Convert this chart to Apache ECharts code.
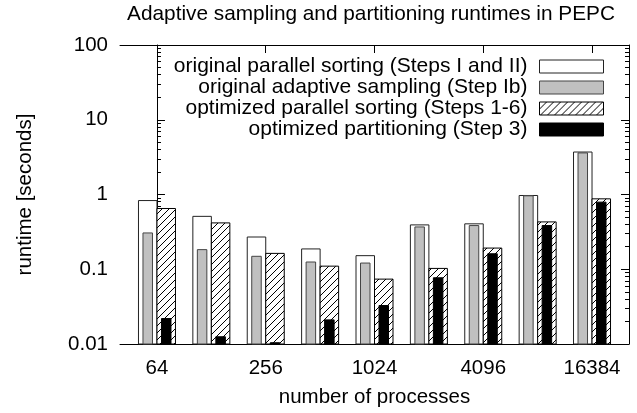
<!DOCTYPE html>
<html>
<head>
<meta charset="utf-8">
<script src="https://cdn.jsdelivr.net/npm/echarts@6/dist/echarts.min.js"></script>
<style>
  html, body { margin: 0; padding: 0; background: #fff; }
  #chart { width: 637px; height: 413px; }
</style>
</head>
<body>
<div id="chart"></div>
<script>
// number of processes, one cluster per entry
const processes = ['64', '128', '256', '512', '1024', '2048', '4096', '8192', '16384'];
// runtimes in seconds
const origSorting = [0.83, 0.51, 0.27, 0.187, 0.152, 0.392, 0.405, 0.97, 3.7];
const origSampling = [0.306, 0.183, 0.149, 0.125, 0.121, 0.368, 0.384, 0.96, 3.6];
const optSorting = [0.65, 0.417, 0.163, 0.110, 0.0738, 0.1026, 0.192, 0.43, 0.875];
const optPartitioning = [0.0219, 0.0125, 0.0104, 0.021, 0.0327, 0.0769, 0.161, 0.384, 0.79];
// which clusters get a tick label
const labeledGroups = [0, 2, 4, 6, 8];
const yTickLabels = ['0.01', '0.1', '1', '10', '100'];

const names = [
  'original parallel sorting (Steps I and II)',
  'original adaptive sampling (Step Ib)',
  'optimized parallel sorting (Steps 1-6)',
  'optimized partitioning (Step 3)'
];

const FONT = 'Liberation Sans';
const yMin = 0.01, yMax = 100;

// minor ticks of the log axis, in log10 space
const minorTicks = [];
for (let d = -2; d < 2; d++) {
  for (let k = 2; k <= 9; k++) minorTicks.push(d + Math.log10(k));
}

// diagonal hatch like gnuplot's fill pattern
function hatchCanvas() {
  const c = document.createElement('canvas');
  c.width = 7; c.height = 7;
  const g = c.getContext('2d');
  g.fillStyle = '#fff';
  g.fillRect(0, 0, 7, 7);
  g.strokeStyle = '#000';
  g.lineWidth = 1;
  g.beginPath();
  g.moveTo(-1, 8); g.lineTo(8, -1);
  g.stroke();
  return c;
}
const hatch = { image: hatchCanvas(), repeat: 'repeat' };

const styles = [
  { fill: '#fff', stroke: '#222', offset: -9.25, width: 18.5 },
  { fill: '#c0c0c0', stroke: '#444', offset: -9.25, width: 9.5 },
  { fill: hatch, stroke: '#000', offset: 9.25, width: 18.5 },
  { fill: '#000', stroke: '#000', offset: 9.25, width: 9.5 }
];

function barSeries(idx, values) {
  const s = styles[idx];
  return {
    name: names[idx],
    type: 'custom',
    xAxisIndex: 0,
    yAxisIndex: 0,
    encode: { x: 0, y: 1 },
    data: values.map((v, i) => [i, v]),
    itemStyle: { color: s.fill, borderColor: s.stroke, borderWidth: 1 },
    renderItem: function (params, api) {
      const top = api.coord([api.value(0), api.value(1)]);
      const base = api.coord([api.value(0), yMin]);
      return {
        type: 'rect',
        shape: { x: top[0] + s.offset - s.width / 2, y: top[1], width: s.width, height: base[1] - top[1] },
        style: { fill: s.fill, stroke: s.stroke, lineWidth: 1 }
      };
    }
  };
}

const lineStyle = { color: '#000', width: 1 };

function xAxisDef(pos) {
  return {
    type: 'value',
    position: pos,
    min: -0.68,
    max: 8.68,
    axisLine: { show: true, onZero: false, lineStyle },
    axisTick: { show: true, inside: true, length: 8, customValues: labeledGroups, lineStyle },
    axisLabel: {
      show: pos === 'bottom',
      customValues: labeledGroups,
      formatter: v => processes[Math.round(v)],
      margin: 14,
      color: '#000', fontFamily: FONT, fontSize: 20.5
    },
    splitLine: { show: false }
  };
}

function yMajor(pos) {
  return {
    type: 'log',
    logBase: 10,
    position: pos,
    min: yMin,
    max: yMax,
    axisLine: { show: true, lineStyle },
    axisTick: { show: true, inside: true, length: 8, lineStyle },
    axisLabel: {
      show: pos === 'left',
      formatter: v => yTickLabels[Math.round(Math.log10(v)) + 2],
      margin: 12,
      color: '#000', fontFamily: FONT, fontSize: 20.5
    },
    splitLine: { show: false },
    minorTick: { show: false },
    minorSplitLine: { show: false }
  };
}

function yMinor(pos) {
  return {
    type: 'value',
    position: pos,
    min: -2,
    max: 2,
    axisLine: { show: false },
    axisTick: { show: true, inside: true, length: 4, customValues: minorTicks, lineStyle },
    axisLabel: { show: false },
    splitLine: { show: false }
  };
}

const chart = echarts.init(document.getElementById('chart'), null, { renderer: 'canvas' });

const left = yMajor('left');
left.name = 'runtime [seconds]';
left.nameLocation = 'middle';
left.nameGap = 84;
left.nameRotate = 90;
left.nameTextStyle = { color: '#000', fontFamily: FONT, fontSize: 20.5 };

const bottom = xAxisDef('bottom');
bottom.name = 'number of processes';
bottom.nameLocation = 'middle';
bottom.nameGap = 43;
bottom.nameTextStyle = { color: '#000', fontFamily: FONT, fontSize: 20.5 };

chart.setOption({
  animation: false,
  backgroundColor: '#fff',
  title: {
    text: 'Adaptive sampling and partitioning runtimes in PEPC',
    left: 371,
    top: 4,
    padding: 0,
    textAlign: 'center',
    textStyle: { color: '#000', fontFamily: FONT, fontSize: 20.8, fontWeight: 'normal' }
  },
  legend: {
    orient: 'vertical',
    align: 'right',
    right: 33,
    top: 56,
    padding: 0,
    itemGap: 0,
    itemWidth: 64,
    itemHeight: 13,
    icon: 'rect',
    selectedMode: false,
    textStyle: { color: '#000', fontFamily: FONT, fontSize: 21, lineHeight: 21, padding: [0, 7, 0, 0] },
    data: names.map((n, i) => ({
      name: n,
      itemStyle: { color: styles[i].fill, borderColor: styles[i].stroke, borderWidth: 1 }
    }))
  },
  grid: { left: 120, right: 8, top: 45, bottom: 69, containLabel: false },
  xAxis: [bottom, xAxisDef('top')],
  yAxis: [left, yMinor('left'), yMajor('right'), yMinor('right')],
  series: [
    barSeries(0, origSorting),
    barSeries(1, origSampling),
    barSeries(2, optSorting),
    barSeries(3, optPartitioning)
  ]
});
</script>
</body>
</html>
